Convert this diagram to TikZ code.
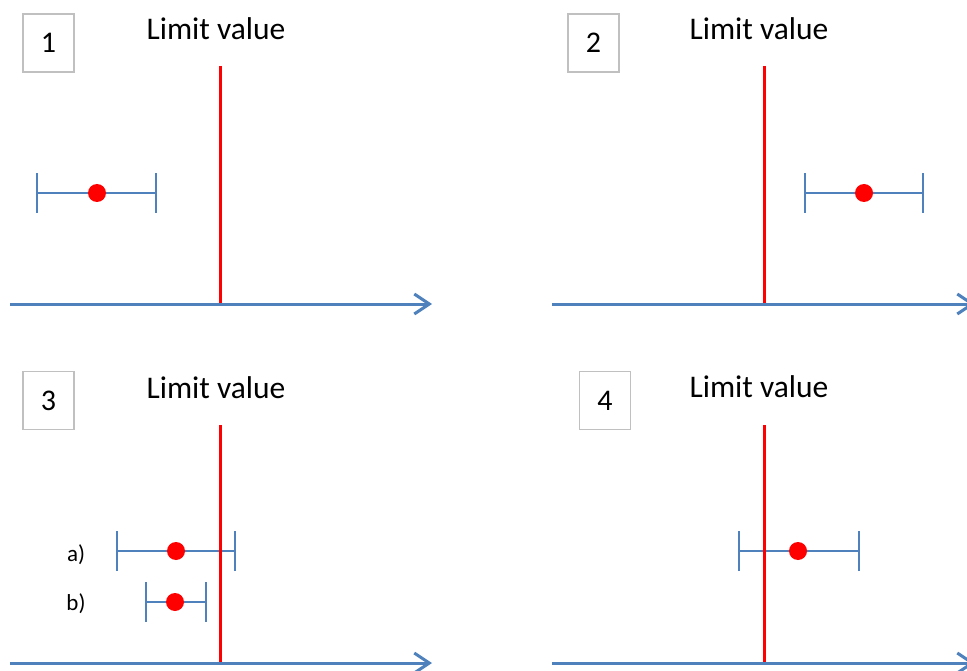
\documentclass[tikz,border=0pt]{standalone}
\usepackage{fontspec}
\setmainfont{Carlito}
\usetikzlibrary{arrows.meta}
\definecolor{axisblue}{HTML}{4F81BD}
\definecolor{limred}{HTML}{FF0000}
\definecolor{boxgray}{HTML}{C0C0C0}
\tikzset{
  numbox/.style={draw=boxgray, line width=1.5pt, minimum width=51pt, minimum height=58pt, inner sep=0pt, font=\fontsize{30}{36}\selectfont},
  limlabel/.style={inner sep=0pt, font=\fontsize{31.5}{38}\selectfont},
  sublabel/.style={inner sep=0pt, font=\fontsize{23}{28}\selectfont},
  axisline/.style={draw=axisblue, line width=3pt, -{Straight Barb[length=15pt,width=20pt]}},
  limline/.style={draw=limred, line width=3pt},
  barline/.style={draw=axisblue, line width=1.6pt},
  dot/.style={circle, fill=limred, minimum size=18pt, inner sep=0pt},
}
\begin{document}
\begin{tikzpicture}[x=1pt,y=-1pt]
\useasboundingbox (0,0) rectangle (967,671);
\clip (0,0) rectangle (967,671);
% boxes and labels
\node[numbox] (b1) at (48.5,43) {1};
\node[numbox] (b2) at (593.5,43) {2};
\node[numbox] (b3) at (48.5,400.5) {3};
\node[numbox] (b4) at (605,400.5) {4};
\node[limlabel] (l1) at (216,29) {Limit value};
\node[limlabel] (l2) at (759,29) {Limit value};
\node[limlabel] (l3) at (216,388) {Limit value};
\node[limlabel] (l4) at (759,387) {Limit value};
\node[sublabel] (sa) at (76,555) {a)};
\node[sublabel] (sb) at (76,604) {b)};
% error bars
% panel 1
\coordinate (e1l) at (37,193); \coordinate (e1r) at (156,193);
\draw[barline] (e1l) -- (e1r);
\draw[barline] ([yshift=-20pt]e1l) -- ([yshift=20pt]e1l);
\draw[barline] ([yshift=-20pt]e1r) -- ([yshift=20pt]e1r);
\node[dot] (d1) at (97,193) {};
% panel 2
\coordinate (e2l) at (805,193); \coordinate (e2r) at (923,193);
\draw[barline] (e2l) -- (e2r);
\draw[barline] ([yshift=-20pt]e2l) -- ([yshift=20pt]e2l);
\draw[barline] ([yshift=-20pt]e2r) -- ([yshift=20pt]e2r);
\node[dot] (d2) at (864,193) {};
% panel 3a
\coordinate (e3l) at (117,551); \coordinate (e3r) at (235,551);
\draw[barline] (e3l) -- (e3r);
\draw[barline] ([yshift=-20pt]e3l) -- ([yshift=20pt]e3l);
\draw[barline] ([yshift=-20pt]e3r) -- ([yshift=20pt]e3r);
\node[dot] (d3) at (176,551) {};
% panel 3b
\coordinate (e5l) at (146,602); \coordinate (e5r) at (206,602);
\draw[barline] (e5l) -- (e5r);
\draw[barline] ([yshift=-20pt]e5l) -- ([yshift=20pt]e5l);
\draw[barline] ([yshift=-20pt]e5r) -- ([yshift=20pt]e5r);
\node[dot] (d5) at (175,602) {};
% panel 4
\coordinate (e4l) at (739,551); \coordinate (e4r) at (859,551);
\draw[barline] (e4l) -- (e4r);
\draw[barline] ([yshift=-20pt]e4l) -- ([yshift=20pt]e4l);
\draw[barline] ([yshift=-20pt]e4r) -- ([yshift=20pt]e4r);
\node[dot] (d4) at (798,551) {};
% limit lines
\coordinate (r1t) at (220,66);  \coordinate (r1b) at (220,304);
\coordinate (r2t) at (764,66);  \coordinate (r2b) at (764,304);
\coordinate (r3t) at (220,425); \coordinate (r3b) at (220,663);
\coordinate (r4t) at (764,425); \coordinate (r4b) at (764,663);
\draw[limline] (r1t) -- (r1b);
\draw[limline] (r2t) -- (r2b);
\draw[limline] (r3t) -- (r3b);
\draw[limline] (r4t) -- (r4b);
% axes
\coordinate (a1s) at (10,304);  \coordinate (a1e) at (432,304);
\coordinate (a2s) at (552,304); \coordinate (a2e) at (975,304);
\coordinate (a3s) at (10,663);  \coordinate (a3e) at (432,663);
\coordinate (a4s) at (552,663); \coordinate (a4e) at (975,663);
\draw[axisline] (a1s) -- (a1e);
\draw[axisline] (a2s) -- (a2e);
\draw[axisline] (a3s) -- (a3e);
\draw[axisline] (a4s) -- (a4e);
\end{tikzpicture}
\end{document}
